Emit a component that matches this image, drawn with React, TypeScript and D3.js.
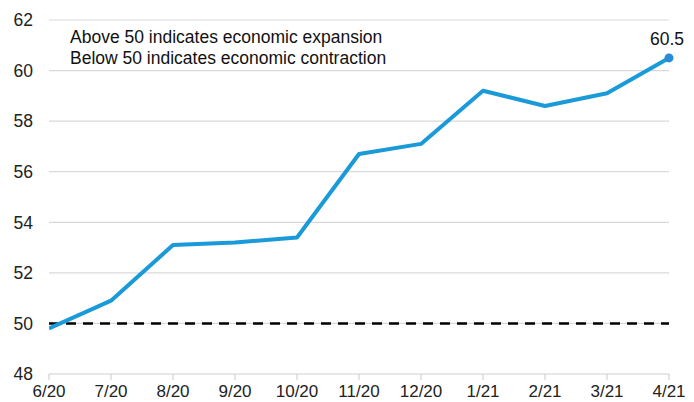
import React from "react";
import * as d3 from "d3";

const categories = ["6/20", "7/20", "8/20", "9/20", "10/20", "11/20", "12/20", "1/21", "2/21", "3/21", "4/21"];
const values = [49.8, 50.9, 53.1, 53.2, 53.4, 56.7, 57.1, 59.2, 58.6, 59.1, 60.5];
const yTicks = [48, 50, 52, 54, 56, 58, 60, 62];
const notes = ["Above 50 indicates economic expansion", "Below 50 indicates economic contraction"];
const threshold = 50;

const W = 694;
const H = 402;
const FONT = "'Liberation Sans', Arial, sans-serif";
const FS = 17.5;

export default function App() {
  const x = d3.scalePoint<string>().domain(categories).range([49, 669]);
  const y = d3.scaleLinear().domain([48, 62]).range([374, 20]);
  const line = d3
    .line<number>()
    .x((_, i) => x(categories[i]) as number)
    .y((d) => y(d))
    .curve(d3.curveLinear);
  const last = values.length - 1;
  const lx = x(categories[last]) as number;
  const ly = y(values[last]);

  return (
    <svg
      width={W}
      height={H}
      style={{ position: "absolute", left: 0, top: 0, background: "#fff" }}
      fontFamily={FONT}
    >
      <defs>
        <clipPath id="plot">
          <rect x={49} y={0} width={640} height={H} />
        </clipPath>
      </defs>
      {yTicks.map((t) => (
        <g key={t}>
          {t !== 48 && (
            <line x1={49} x2={669} y1={y(t)} y2={y(t)} stroke="#d9d9d9" strokeWidth={1.2} />
          )}
          <text x={33} y={y(t) + 6.3} textAnchor="end" fontSize={FS} fill="#222">
            {t}
          </text>
        </g>
      ))}
      <line x1={49} x2={669} y1={y(48)} y2={y(48)} stroke="#d0d0d0" strokeWidth={1.2} />
      {categories.map((c) => (
        <g key={c}>
          <line x1={x(c)} x2={x(c)} y1={y(48)} y2={y(48) + 6} stroke="#d0d0d0" strokeWidth={1.2} />
          <text x={x(c)} y={397} textAnchor="middle" fontSize={17} fill="#222">
            {c}
          </text>
        </g>
      ))}
      <line
        x1={49}
        x2={669}
        y1={y(threshold)}
        y2={y(threshold)}
        stroke="#000"
        strokeWidth={2.5}
        strokeDasharray="10,7"
      />
      <path
        d={line(values) ?? ""}
        fill="none"
        stroke="#1a9ad8"
        strokeWidth={4}
        strokeLinejoin="round"
        clipPath="url(#plot)"
      />
      <circle cx={lx} cy={ly} r={4.5} fill="#2a8ad6" />
      <text x={lx - 2} y={45} textAnchor="middle" fontSize={FS} fill="#111">
        {values[last].toFixed(1)}
      </text>
      {notes.map((n, i) => (
        <text key={n} x={70} y={43 + i * 21} fontSize={FS} fill="#111">
          {n}
        </text>
      ))}
    </svg>
  );
}
